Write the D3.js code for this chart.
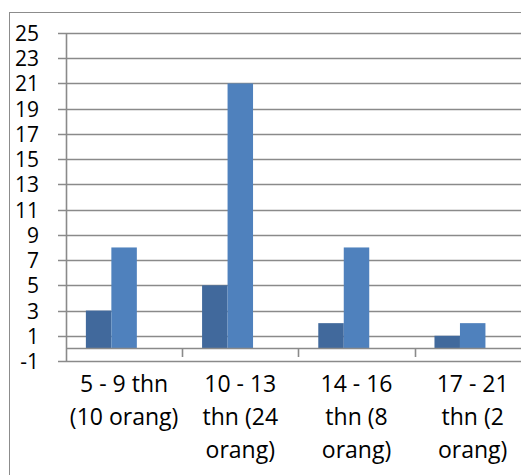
<!DOCTYPE html>
<html>
<head>
<meta charset="utf-8">
<script src="https://cdn.jsdelivr.net/npm/d3@7"></script>
<style>
  html, body { margin: 0; padding: 0; background: #fff; }
  svg { display: block; }
  text { font-family: "Open Sans", Lato, sans-serif; fill: #000; }
</style>
</head>
<body>
<svg id="chart" width="521" height="475"></svg>
<script>
const categories = [
  ["5 - 9 thn", "(10 orang)"],
  ["10 - 13", "thn (24", "orang)"],
  ["14 - 16", "thn (8", "orang)"],
  ["17 - 21", "thn (2", "orang)"]
];
const seriesNames = ["Seri 1", "Seri 2", "Seri 3"];
const series1 = [3, 5, 2, 1];
const series2 = [8, 21, 8, 2];
const yTicks = [-1, 1, 3, 5, 7, 9, 11, 13, 15, 17, 19, 21, 23, 25];
const seriesColors = ["#41699c", "#4f81bd", "#9bbb59"];

const svg = d3.select("#chart");
const W = 521, H = 475;

// outer chart border (cropped on right and bottom)
svg.append("rect")
  .attr("x", 9.5).attr("y", 12.5)
  .attr("width", W + 20).attr("height", H + 20)
  .attr("fill", "#fff").attr("stroke", "#8c8c8c").attr("stroke-width", 1);

const plotLeft = 66, plotTop = 33, plotBottom = 361;
const step = 116.2;
const catKeys = categories.map((d, i) => i);

const y = d3.scaleLinear().domain([-1, 25]).range([plotBottom, plotTop]);
const x0 = d3.scaleBand().domain(catKeys).range([plotLeft, plotLeft + step * 4]).paddingInner(0).paddingOuter(0);
const x1 = d3.scaleBand().domain(seriesNames).range([0, x0.bandwidth()]).paddingInner(0).paddingOuter(0.78);

// gridlines + y tick marks
svg.append("g")
  .selectAll("line")
  .data(yTicks)
  .join("line")
  .attr("x1", plotLeft - 8).attr("x2", W + 10)
  .attr("y1", d => Math.round(y(d)) + 0.5).attr("y2", d => Math.round(y(d)) + 0.5)
  .attr("stroke", "#8a8a8a").attr("stroke-width", 1.6);

// y axis line
svg.append("line")
  .attr("x1", plotLeft + 0.5).attr("x2", plotLeft + 0.5)
  .attr("y1", Math.round(y(25))).attr("y2", Math.round(y(-1)) + 1)
  .attr("stroke", "#8a8a8a").attr("stroke-width", 1.6);

// y labels
svg.append("g")
  .selectAll("text")
  .data(yTicks)
  .join("text")
  .attr("x", 39).attr("y", d => y(d) + 8)
  .attr("text-anchor", "end")
  .attr("font-size", 21)
  .text(d => d);

// bars
const data = [series1, series2];
data.forEach((vals, si) => {
  svg.append("g")
    .selectAll("rect")
    .data(vals)
    .join("rect")
    .attr("x", (d, i) => x0(i) + x1(seriesNames[si]))
    .attr("width", x1.bandwidth())
    .attr("y", d => y(d))
    .attr("height", d => y(0) - y(d))
    .attr("fill", seriesColors[si]);
});

// x axis line (at 0)
svg.append("line")
  .attr("x1", plotLeft).attr("x2", W + 10)
  .attr("y1", Math.round(y(0)) + 0.5).attr("y2", Math.round(y(0)) + 0.5)
  .attr("stroke", "#8a8a8a").attr("stroke-width", 1.6);

// category tick marks
svg.append("g")
  .selectAll("line")
  .data(catKeys.slice(1))
  .join("line")
  .attr("x1", d => Math.round(x0(d)) + 0.5).attr("x2", d => Math.round(x0(d)) + 0.5)
  .attr("y1", Math.round(y(0))).attr("y2", Math.round(y(0)) + 9)
  .attr("stroke", "#8a8a8a").attr("stroke-width", 1.6);

// category labels
const lab = svg.append("g")
  .selectAll("text")
  .data(categories)
  .join("text")
  .attr("text-anchor", "middle")
  .attr("font-size", 23);
lab.each(function(lines, i) {
  const t = d3.select(this);
  lines.forEach((ln, j) => {
    t.append("tspan")
      .attr("x", x0(i) + x0.bandwidth() / 2)
      .attr("y", 392 + j * 33)
      .text(ln);
  });
});
</script>
</body>
</html>
